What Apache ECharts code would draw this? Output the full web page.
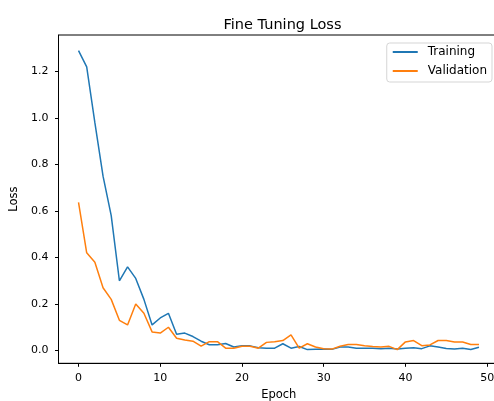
<!DOCTYPE html>
<html>
<head>
<meta charset="utf-8">
<script src="https://cdn.jsdelivr.net/npm/echarts@6/dist/echarts.min.js"></script>
<style>
	html, body { margin: 0; padding: 0; background: #fff; }
	#chart { width: 494px; height: 401px; }
</style>
</head>
<body>
<div id="chart"></div>
<script>
// 训练轮次
const epochs = Array.from({length: 50}, (_, i) => i);

// Training loss
const trainLoss = [
	1.29, 1.22, 0.98, 0.75, 0.58, 0.30, 0.36, 0.31, 0.22, 0.11,
	0.14, 0.16, 0.07, 0.075, 0.06, 0.04, 0.025, 0.025, 0.03, 0.015,
	0.02, 0.02, 0.012, 0.01, 0.01, 0.029, 0.01, 0.017, 0.004, 0.005,
	0.006, 0.005, 0.015, 0.015, 0.01, 0.01, 0.01, 0.008, 0.01, 0.006,
	0.01, 0.012, 0.008, 0.02, 0.015, 0.009, 0.006, 0.01, 0.004, 0.014
];

// Validation loss
const valLoss = [
	0.637, 0.42, 0.38, 0.27, 0.22, 0.13, 0.11, 0.20, 0.16, 0.08,
	0.075, 0.10, 0.053, 0.045, 0.04, 0.019, 0.038, 0.038, 0.01, 0.01,
	0.018, 0.018, 0.01, 0.035, 0.038, 0.043, 0.067, 0.01, 0.029, 0.015,
	0.008, 0.006, 0.018, 0.026, 0.026, 0.02, 0.017, 0.015, 0.018, 0.004,
	0.037, 0.043, 0.021, 0.024, 0.043, 0.043, 0.037, 0.037, 0.026, 0.026
];

const xTicks = [0, 10, 20, 30, 40, 50];
const yTicks = [0, 0.2, 0.4, 0.6, 0.8, 1.0, 1.2];

const font = 'DejaVu Sans';
let myChart = echarts.init(document.getElementById('chart'));
myChart.setOption({
	animation: false,
	title: {
		text: 'Fine Tuning Loss',
		left: 277.5, top: 13, textAlign: 'center',
		textStyle: { fontFamily: font, fontSize: 14.5, fontWeight: 'normal', color: '#000' }
	},
	legend: {
		right: 2, top: 43,
		orient: 'vertical',
		itemWidth: 25, itemHeight: 2, itemGap: 7,
		icon: 'rect',
		padding: [3, 5, 5, 6],
		borderColor: '#d5d5d5', borderWidth: 1, borderRadius: 3,
		backgroundColor: '#fff',
		textStyle: { fontFamily: font, fontSize: 12, lineHeight: 12, color: '#000', padding: [0, 0, 0, 5] },
		data: ['Training', 'Validation']
	},
	grid: {
		left: 58.5, right: -5, top: 35, bottom: 37.7,
		outerBoundsMode: 'none',
		show: true, borderColor: '#000', borderWidth: 1,
		containLabel: false
	},
	xAxis: {
		type: 'value',
		min: -2.45, max: 51.45,
		name: 'Epoch', nameLocation: 'middle', nameGap: 26,
		nameTextStyle: { fontFamily: font, fontSize: 11.5, color: '#000' },
		axisLine: { show: true, onZero: false, lineStyle: { color: '#000' } },
		axisTick: { show: true, length: 3.5, customValues: xTicks, lineStyle: { color: '#000' } },
		axisLabel: { customValues: xTicks, fontFamily: font, fontSize: 11, color: '#000', margin: 9 },
		splitLine: { show: false }
	},
	yAxis: {
		type: 'value',
		min: -0.055, max: 1.357,
		name: 'Loss', nameLocation: 'middle', nameGap: 32, nameRotate: 90,
		nameTextStyle: { fontFamily: font, fontSize: 11.5, color: '#000' },
		axisLine: { show: true, onZero: false, lineStyle: { color: '#000' } },
		axisTick: { show: true, length: 3.5, customValues: yTicks, lineStyle: { color: '#000' } },
		axisLabel: {
			customValues: yTicks, fontFamily: font, fontSize: 11, color: '#000', margin: 10,
			formatter: v => v.toFixed(1)
		},
		splitLine: { show: false }
	},
	series: [
		{
			name: 'Training', type: 'line', symbol: 'none',
			color: '#1f77b4', lineStyle: { width: 1.5 },
			data: epochs.map((e, i) => [e, trainLoss[i]])
		},
		{
			name: 'Validation', type: 'line', symbol: 'none',
			color: '#ff7f0e', lineStyle: { width: 1.5 },
			data: epochs.map((e, i) => [e, valLoss[i]])
		}
	]
});
</script>
</body>
</html>
